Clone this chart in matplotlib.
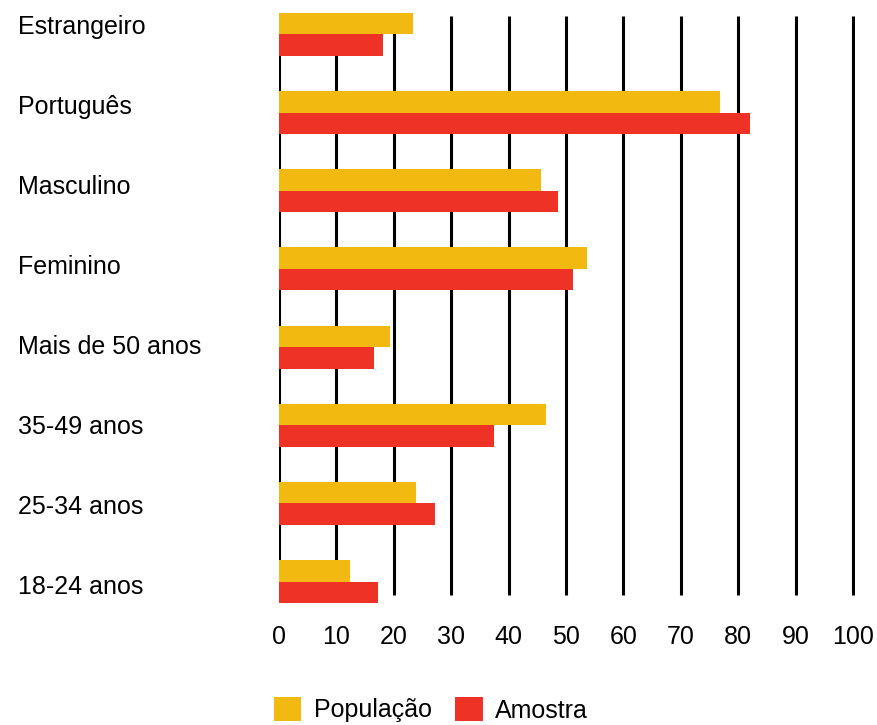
import matplotlib.pyplot as plt

# Perfil da população vs. amostra (%)
categorias = ['Estrangeiro', 'Português', 'Masculino', 'Feminino',
              'Mais de 50 anos', '35-49 anos', '25-34 anos', '18-24 anos']
populacao = [23.3, 76.8, 45.7, 53.6, 19.3, 46.6, 23.8, 12.3]
amostra = [18.2, 82.0, 48.6, 51.3, 16.5, 37.4, 27.1, 17.3]
ticks = [0, 10, 20, 30, 40, 50, 60, 70, 80, 90, 100]

amarelo = '#F2B911'
vermelho = '#EE3226'

plt.rcParams['font.family'] = ['Liberation Sans', 'DejaVu Sans']

W, H = 878, 725
fig = plt.figure(figsize=(W / 100, H / 100), dpi=100)
ax = fig.add_axes([279 / W, 1 - 603 / H, (855 - 279) / W, 590 / H])

h = 0.275
pos = list(range(len(categorias)))

# gridlines behind the bars
ax.vlines(ticks, -0.237, 7.17, colors='black', linewidth=2.2, zorder=1)

ax.barh([p - h / 2 for p in pos], populacao, height=h, color=amarelo,
        zorder=2, label='População')
ax.barh([p + h / 2 for p in pos], amostra, height=h, color=vermelho,
        zorder=2, label='Amostra')

ax.set_xlim(0, 100.35)
ax.set_ylim(7.275, -0.275)
ax.set_xticks(ticks)
ax.set_xticklabels([str(t) for t in ticks], fontsize=18)
ax.tick_params(axis='x', length=0, pad=16)
ax.set_yticks([])
for s in ax.spines.values():
    s.set_visible(False)

# category names, left aligned
for i, c in enumerate(categorias):
    fig.text(18 / W, 1 - (34 + 80 * i) / H, c, fontsize=18,
             ha='left', va='baseline')

fig.legend(loc='lower left', bbox_to_anchor=(251 / W, -20 / H), ncol=2,
           frameon=False, fontsize=18, handlelength=1.1, handleheight=1.1,
           handletextpad=0.5, columnspacing=0.95)

fig.savefig('out.png', dpi=100)
